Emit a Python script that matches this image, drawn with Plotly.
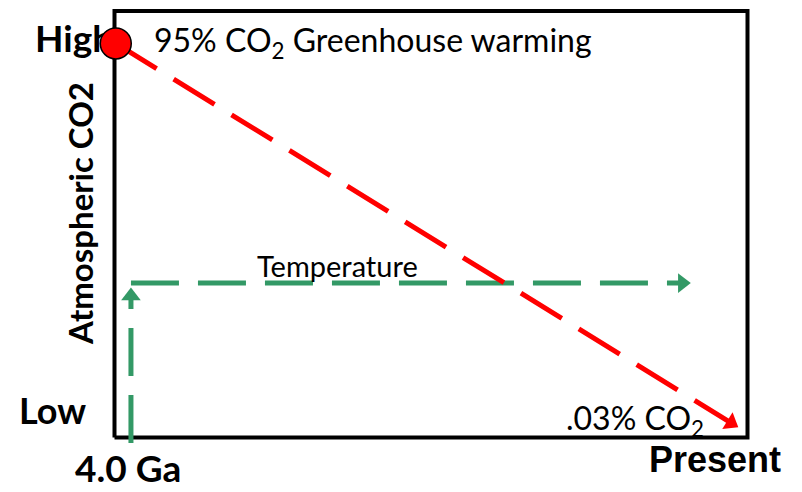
"""Schema: CO2 atmosferica e temperatura dall'Archeano al presente."""

import plotly.graph_objects as go

W, H = 786, 476   # la pagina aggiunge 8px di margine intorno

# dati (scala arbitraria 0-100: x = tempo da 4.0 Ga al presente, y = CO2)
co2_x = [0.2, 97.4]
co2_y = [92.4, 3.45]
temp_up_x = [2.6, 2.6]
temp_up_y = [-1.3, 33.2]
temp_run_x = [2.6, 89.7]
temp_run_y = [36.2, 36.2]
frame_x = [0, 100, 100, 0, 0]
frame_y = [0, 0, 100, 100, 0]

RED = "#ff0000"
GREEN = "#339966"

# cornice: x 0->114.5px, 100->747.5px ; y 0->437.5px, 100->11px (pixel della pagina)
X0, XS = 114.5 - 8, 6.33
Y0, YS = 437.5 - 8, 4.265
xr = [-X0 / XS, (W - X0) / XS]
yr = [-(H - Y0) / YS, Y0 / YS]


def pp(x, y):
    """pixel della pagina -> coordinate paper"""
    return (x - 8) / W, 1 - (y - 8) / H


fig = go.Figure()

fig.add_trace(go.Scatter(
    x=frame_x, y=frame_y, mode="lines",
    line=dict(color="black", width=4), showlegend=False, hoverinfo="skip",
))

# etichetta High sotto al cerchio
fig.add_trace(go.Scatter(
    x=[(35 - 8 - X0) / XS], y=[92.5], mode="text", text=["High"],
    textposition="middle right",
    textfont=dict(family="Lato", size=37, color="black", weight="bold"),
    showlegend=False, cliponaxis=False,
))

for xs, ys in [(temp_up_x, temp_up_y), (temp_run_x, temp_run_y)]:
    fig.add_trace(go.Scatter(
        x=xs, y=ys, mode="lines",
        line=dict(color=GREEN, width=5, dash="48px,19px"),
        showlegend=False,
    ))
    fig.add_trace(go.Scatter(
        x=xs, y=ys, mode="markers",
        marker=dict(symbol="triangle-up", size=[1, 17], color=GREEN,
                    opacity=[0, 1], angleref="previous", line=dict(width=0)),
        showlegend=False, cliponaxis=False,
    ))

fig.add_trace(go.Scatter(
    x=co2_x, y=co2_y, mode="lines",
    line=dict(color=RED, width=5, dash="48px,20px"),
    showlegend=False,
))
fig.add_trace(go.Scatter(
    x=co2_x, y=co2_y, mode="markers",
    marker=dict(symbol="triangle-up", size=[1, 17], color=RED,
                opacity=[0, 1], angleref="previous", line=dict(width=0)),
    showlegend=False, cliponaxis=False,
))
fig.add_trace(go.Scatter(
    x=co2_x[:1], y=co2_y[:1], mode="markers",
    marker=dict(symbol="circle", size=31, color=RED,
                line=dict(color="black", width=1.5)),
    showlegend=False, cliponaxis=False,
))

labels = [
    ("95% CO<sub>2</sub> Greenhouse warming", 152, 42, "left", 0,
     dict(family="Lato", size=32, color="black")),
    ("Temperature", 337, 265, "center", 0,
     dict(family="Liberation Sans Narrow, Lato", size=29, color="black")),
    (".03% CO<sub>2</sub>", 706, 420, "right", 0,
     dict(family="Lato", size=32, color="black")),
    ("Low", 17, 410, "left", 0,
     dict(family="Lato", size=36, color="black", weight="bold")),
    ("4.0 Ga", 128, 467, "center", 0,
     dict(family="Lato", size=37, color="black", weight="bold")),
    ("Present", 715, 459, "center", 0,
     dict(family="Liberation Sans", size=36, color="black", weight="bold")),
    ("Atmospheric CO2", 80, 214, "center", -90,
     dict(family="Lato", size=33, color="black", weight="bold")),
]
for txt, x, y, anchor, ang, font in labels:
    ax, ay = pp(x, y)
    fig.add_annotation(
        x=ax, y=ay, xref="paper", yref="paper", text=txt, showarrow=False,
        xanchor=anchor, yanchor="middle", textangle=ang, font=font,
    )

fig.update_layout(
    width=W, height=H,
    margin=dict(l=0, r=0, t=0, b=0),
    paper_bgcolor="white", plot_bgcolor="white",
    xaxis=dict(range=xr, visible=False, fixedrange=True),
    yaxis=dict(range=yr, visible=False, fixedrange=True),
)

fig.write_html("out.html")
